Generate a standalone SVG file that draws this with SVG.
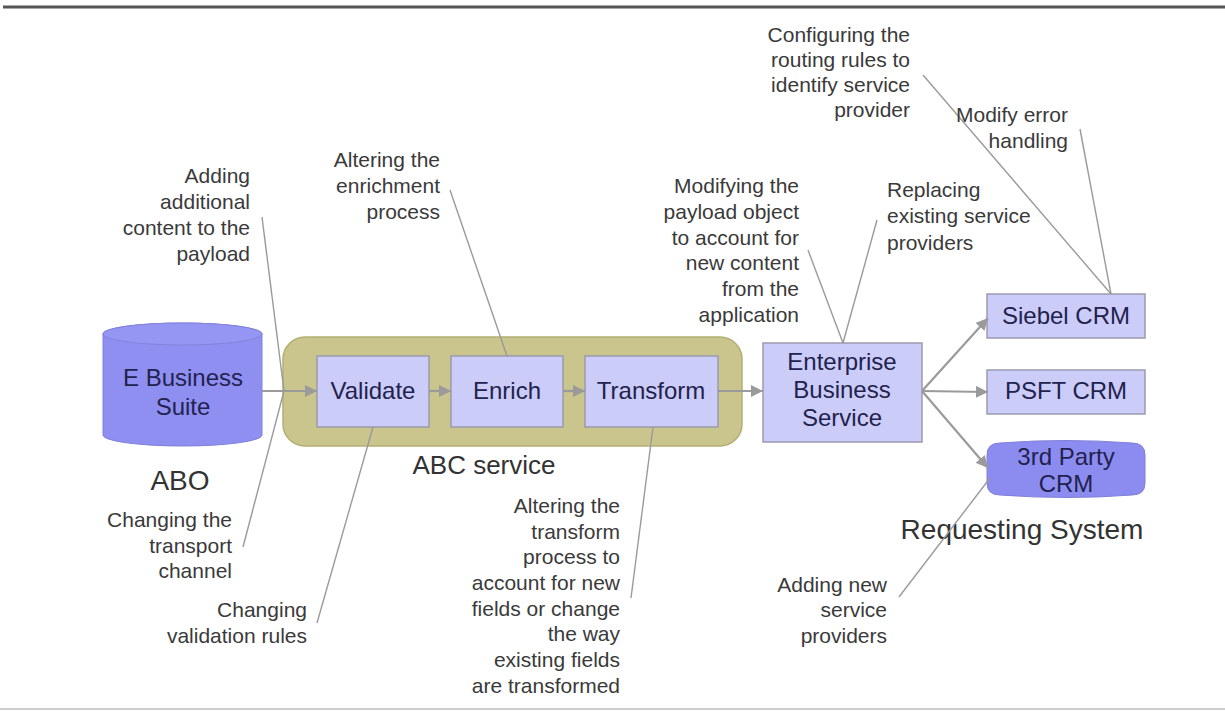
<svg xmlns="http://www.w3.org/2000/svg" width="1225" height="711" viewBox="0 0 1225 711">
<style>
.ann{font-family:"Liberation Sans",Arial,sans-serif;font-size:21px;fill:#3a3a3a}
.end{text-anchor:end}
.nt{font-family:"Liberation Sans",Arial,sans-serif;font-size:24px;fill:#22224e;text-anchor:middle}
.lbl{font-family:"Liberation Sans",Arial,sans-serif;font-size:28px;fill:#333;text-anchor:middle}
.box{fill:#ccccf8;stroke:#9a9aae;stroke-width:1.5}
.cyl{fill:#8f8ff2;stroke:#8080d8;stroke-width:1}
.flow{stroke:#9a9a9a;stroke-width:2.2;fill:none}
.lead{stroke:#9a9a9a;stroke-width:1.4;fill:none}
</style>
<defs>
<marker id="ah" markerUnits="userSpaceOnUse" markerWidth="13" markerHeight="12" refX="12" refY="6" orient="auto">
<path d="M0,0 L12,6 L0,12 z" fill="#9a9a9a"/>
</marker>
</defs>
<rect width="1225" height="711" fill="#ffffff"/>
<line x1="3" y1="7" x2="1225" y2="7" stroke="#555" stroke-width="3"/>
<line x1="0" y1="709" x2="1225" y2="709" stroke="#bbb" stroke-width="1.5"/>

<g id="abc-service">
<rect x="283" y="337" width="459" height="109" rx="22" fill="#c9c58d" stroke="#b3ae74" stroke-width="1.5"/>
<text class="lbl" x="484" y="474" style="font-size:26px">ABC service</text>
</g>

<g id="e-business-suite">
<path class="cyl" d="M103,334 A79.5,11 0 0 1 262,334 L262,435 A79.5,11 0 0 1 103,435 Z"/>
<ellipse cx="182.5" cy="334" rx="79.5" ry="11" fill="#9595f4" stroke="#8383dc" stroke-width="1"/>
<text class="nt" x="183" y="386">E Business</text>
<text class="nt" x="183" y="415">Suite</text>
<text class="lbl" x="180" y="490">ABO</text>
</g>

<g id="validate">
<rect class="box" x="317" y="356" width="112" height="71"/>
<text class="nt" x="373" y="399">Validate</text>
</g>
<g id="enrich">
<rect class="box" x="451" y="356" width="112" height="71"/>
<text class="nt" x="507" y="399">Enrich</text>
</g>
<g id="transform">
<rect class="box" x="585" y="356" width="133" height="71"/>
<text class="nt" x="651" y="399">Transform</text>
</g>

<g id="enterprise-business-service">
<rect class="box" x="763" y="343" width="159" height="99"/>
<text class="nt" x="842" y="370">Enterprise</text>
<text class="nt" x="842" y="398">Business</text>
<text class="nt" x="842" y="426">Service</text>
</g>

<g id="siebel-crm">
<rect class="box" x="987" y="294" width="158" height="44"/>
<text class="nt" x="1066" y="324">Siebel CRM</text>
</g>
<g id="psft-crm">
<rect class="box" x="987" y="370" width="158" height="44"/>
<text class="nt" x="1066" y="399">PSFT CRM</text>
</g>
<g id="third-party-crm">
<path d="M987,455 Q987,443 1000,443 Q1066,438 1132,443 Q1145,443 1145,455 L1145,483 Q1145,495 1132,495 Q1066,500 1000,495 Q987,495 987,483 Z" fill="#8c8cf0" stroke="#8080d8" stroke-width="1"/>
<text class="nt" x="1066" y="465">3rd Party</text>
<text class="nt" x="1066" y="492">CRM</text>
<text class="lbl" x="1022" y="539">Requesting System</text>
</g>

<g id="connectors">
<line class="flow" x1="262" y1="391" x2="317" y2="391" marker-end="url(#ah)"/>
<line class="flow" x1="429" y1="391" x2="451" y2="391" marker-end="url(#ah)"/>
<line class="flow" x1="563" y1="391" x2="585" y2="391" marker-end="url(#ah)"/>
<line class="flow" x1="718" y1="391" x2="763" y2="391" marker-end="url(#ah)"/>
<line class="flow" x1="922" y1="391" x2="988" y2="318" marker-end="url(#ah)"/>
<line class="flow" x1="922" y1="391" x2="988" y2="392" marker-end="url(#ah)"/>
<line class="flow" x1="922" y1="391" x2="988" y2="468" marker-end="url(#ah)"/>

<line class="lead" x1="262" y1="217" x2="284" y2="391"/>
<line class="lead" x1="243" y1="547" x2="284" y2="391"/>
<line class="lead" x1="317" y1="623" x2="373" y2="427"/>
<line class="lead" x1="450" y1="190" x2="507" y2="356"/>
<line class="lead" x1="631" y1="598" x2="653" y2="427"/>
<line class="lead" x1="808" y1="250" x2="843" y2="343"/>
<line class="lead" x1="877" y1="220" x2="843" y2="343"/>
<line class="lead" x1="923" y1="75" x2="1111" y2="294"/>
<line class="lead" x1="1080" y1="129" x2="1111" y2="294"/>
<line class="lead" x1="899" y1="597" x2="990" y2="478"/>
</g>

<g id="notes">
<text class="ann end" x="250"><tspan x="250" y="183">Adding</tspan><tspan x="250" y="209">additional</tspan><tspan x="250" y="235">content to the</tspan><tspan x="250" y="261">payload</tspan></text>
<text class="ann end" x="232"><tspan x="232" y="527">Changing the</tspan><tspan x="232" y="553">transport</tspan><tspan x="232" y="578">channel</tspan></text>
<text class="ann end" x="307"><tspan x="307" y="617">Changing</tspan><tspan x="307" y="643">validation rules</tspan></text>
<text class="ann end" x="440"><tspan x="440" y="167">Altering the</tspan><tspan x="440" y="193">enrichment</tspan><tspan x="440" y="219">process</tspan></text>
<text class="ann end" x="620"><tspan x="620" y="513">Altering the</tspan><tspan x="620" y="539">transform</tspan><tspan x="620" y="564">process to</tspan><tspan x="620" y="590">account for new</tspan><tspan x="620" y="616">fields or change</tspan><tspan x="620" y="641">the way</tspan><tspan x="620" y="667">existing fields</tspan><tspan x="620" y="693">are transformed</tspan></text>
<text class="ann end" x="799"><tspan x="799" y="193">Modifying the</tspan><tspan x="799" y="219">payload object</tspan><tspan x="799" y="245">to account for</tspan><tspan x="799" y="270">new content</tspan><tspan x="799" y="296">from the</tspan><tspan x="799" y="322">application</tspan></text>
<text class="ann" x="887"><tspan x="887" y="197">Replacing</tspan><tspan x="887" y="223">existing service</tspan><tspan x="887" y="250">providers</tspan></text>
<text class="ann end" x="910"><tspan x="910" y="42">Configuring the</tspan><tspan x="910" y="67">routing rules to</tspan><tspan x="910" y="92">identify service</tspan><tspan x="910" y="117">provider</tspan></text>
<text class="ann end" x="1068"><tspan x="1068" y="122">Modify error</tspan><tspan x="1068" y="148">handling</tspan></text>
<text class="ann end" x="887"><tspan x="887" y="592">Adding new</tspan><tspan x="887" y="617">service</tspan><tspan x="887" y="643">providers</tspan></text>
</g>
</svg>
